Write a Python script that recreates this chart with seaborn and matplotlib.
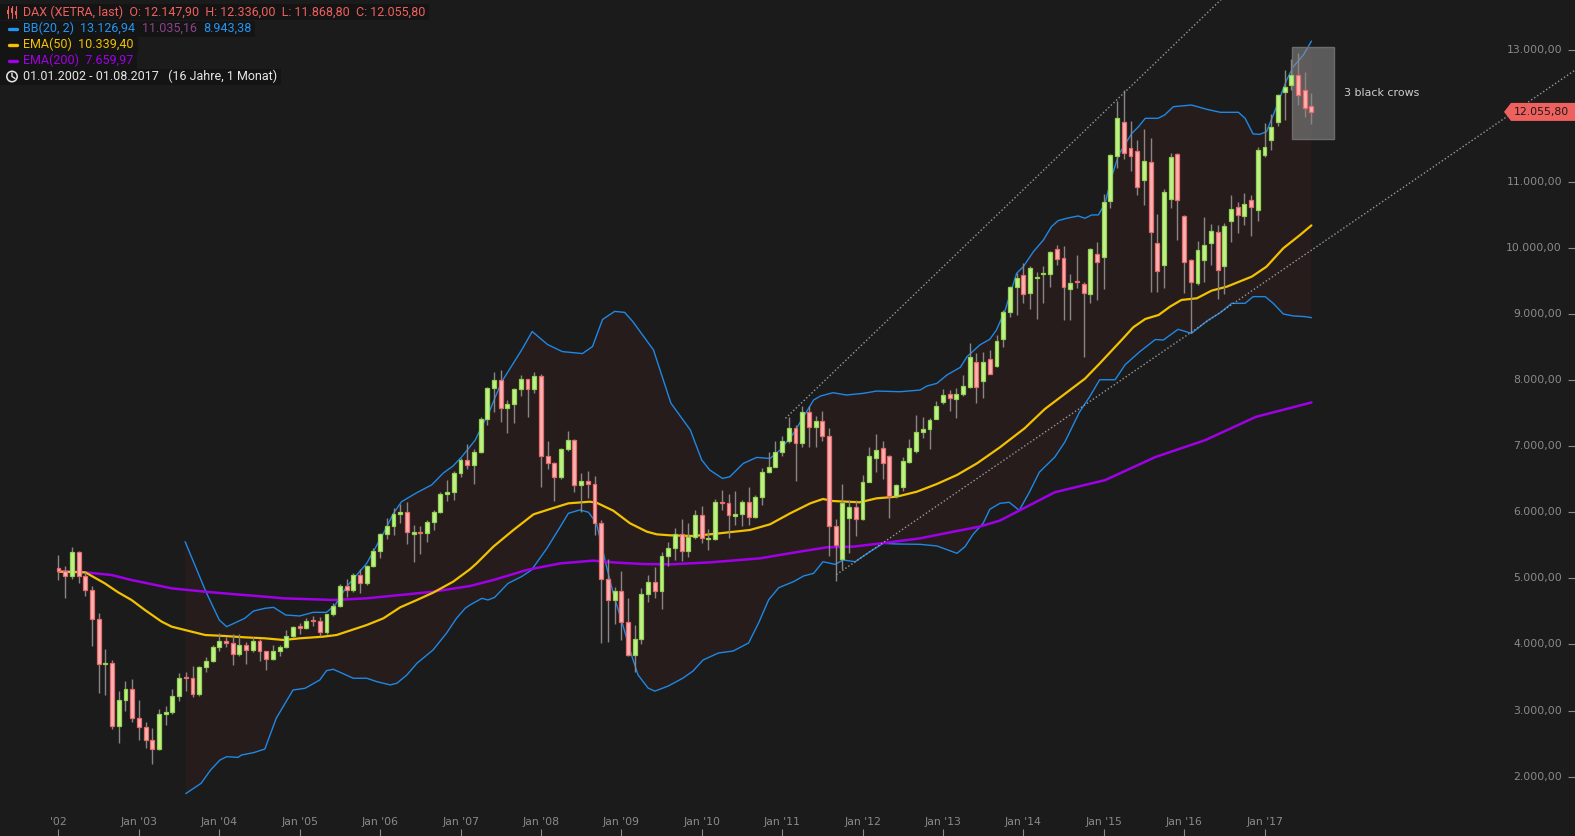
import numpy as np
import pandas as pd
import matplotlib
matplotlib.use("Agg")
import matplotlib.pyplot as plt
import matplotlib.transforms as mtransforms
from matplotlib.patches import Polygon, Rectangle, Circle
from matplotlib.lines import Line2D
import seaborn as sns

# ---------------- data (monthly DAX, Jan 2002 .. Aug 2017) ----------------
opens = [
    5160, 5108, 5039, 5397, 5041, 4818, 4383, 3700, 3712, 2769, 3153, 3321,
    2893, 2748, 2547, 2424, 2942, 2983, 3221, 3487, 3485, 3257, 3656, 3746,
    3965, 4058, 4018, 3856, 3985, 3921, 4053, 3895, 3785, 3893, 3960, 4126,
    4256, 4254, 4350, 4349, 4185, 4460, 4586, 4887, 4830, 5044, 4929, 5193,
    5408, 5674, 5796, 5970, 6009, 5675, 5690, 5682, 5859, 6004, 6269, 6309,
    6597, 6789, 6716, 6917, 7409, 7883, 8007, 7584, 7638, 7862, 8019, 7871,
    8067, 6851, 6748, 6535, 6949, 7097, 6418, 6479, 6422, 5831, 4988, 4669,
    4810, 4338, 3843, 4085, 4770, 4941, 4809, 5332, 5458, 5675, 5415, 5625,
    5957, 5590, 5598, 6154, 6136, 5950, 5966, 6148, 5925, 6229, 6601, 6688,
    6914, 7077, 7273, 7041, 7514, 7294, 7376, 7159, 5785, 5290, 5917, 6073,
    5898, 6462, 6825, 6966, 6850, 6250, 6386, 6764, 6931, 7218, 7254, 7415,
    7672, 7788, 7718, 7793, 7889, 8277, 7990, 8313, 8217, 8615, 9024, 9402,
    9588, 9311, 9540, 9600, 9598, 9977, 9840, 9372, 9490, 9447, 9296, 9906,
    9856, 10713, 11389, 11908, 11510, 11464, 11026, 11298, 10077, 9745, 10743, 11419,
    10481, 9815, 9473, 9815, 10077, 10234, 9730, 10410, 10612, 10486, 10723, 10572,
    11404, 11631, 11908, 12362, 12463, 12614, 12387, 12147.9]
highs = [
    5356, 5180, 5467, 5420, 5090, 4880, 4475, 3930, 3760, 3300, 3450, 3476,
    3160, 2830, 2740, 3030, 3072, 3325, 3570, 3580, 3676, 3680, 3815, 3990,
    4168, 4110, 4155, 4150, 4040, 4110, 4080, 3900, 3990, 3990, 4220, 4272,
    4320, 4400, 4430, 4410, 4465, 4630, 4913, 4990, 5075, 5136, 5200, 5460,
    5690, 5910, 6070, 6125, 6150, 5800, 5790, 5880, 6030, 6300, 6485, 6630,
    6820, 7032, 6960, 7440, 7900, 8117, 8150, 7700, 7880, 8070, 8020, 8117,
    8090, 7077, 6760, 6970, 7230, 7100, 6600, 6623, 6548, 5880, 5290, 4870,
    5115, 4700, 4300, 4850, 5050, 5176, 5400, 5550, 5760, 5890, 5830, 6030,
    6093, 5740, 6195, 6335, 6270, 6320, 6190, 6387, 6260, 6670, 6907, 7080,
    7160, 7440, 7320, 7600, 7600, 7450, 7530, 7278, 5900, 6427, 6185, 6185,
    6563, 6981, 7183, 7077, 6865, 6430, 6840, 7107, 7470, 7435, 7420, 7682,
    7859, 7849, 7874, 8076, 8555, 8403, 8428, 8450, 8681, 9060, 9420, 9614,
    9775, 9725, 9629, 9725, 9950, 10042, 10027, 9598, 9891, 9480, 10000, 10083,
    10814, 11420, 12226, 12387, 11918, 11631, 11792, 11666, 10511, 10884, 11430, 11439,
    10490, 9830, 10103, 10471, 10360, 10345, 10380, 10799, 10700, 10834, 10799, 11530,
    11893, 12024, 12322, 12690, 12851, 12942, 12665, 12336.0]
lows = [
    4980, 4706, 4990, 4933, 4737, 3980, 3260, 3240, 2720, 2513, 2990, 2830,
    2560, 2440, 2189, 2400, 2787, 2950, 3140, 3290, 3210, 3220, 3575, 3730,
    3900, 3955, 3692, 3830, 3700, 3890, 3750, 3618, 3760, 3830, 3950, 4100,
    4150, 4230, 4280, 4120, 4150, 4430, 4570, 4720, 4800, 4773, 4900, 5170,
    5300, 5600, 5650, 5840, 5514, 5243, 5370, 5555, 5730, 5990, 6170, 6190,
    6540, 6650, 6427, 6890, 7320, 7511, 7370, 7193, 7350, 7760, 7446, 7800,
    6384, 6650, 6167, 6500, 6920, 6310, 6000, 6212, 5660, 4014, 4040, 4303,
    4067, 3830, 3589, 4000, 4647, 4698, 4530, 5180, 5270, 5260, 5320, 5600,
    5540, 5433, 5580, 6033, 5610, 5800, 5790, 5810, 5910, 6110, 6600, 6730,
    6850, 7043, 6476, 6990, 6992, 6990, 7080, 5338, 4964, 5136, 5380, 5645,
    5882, 6462, 6613, 6502, 5917, 6210, 6326, 6739, 6900, 7127, 6951, 7405,
    7637, 7536, 7420, 7758, 7874, 7657, 7733, 8090, 8202, 8504, 8960, 8983,
    9170, 9079, 8918, 9170, 9412, 9740, 8908, 8908, 9387, 8353, 9160, 9210,
    9377, 10597, 11202, 11338, 11167, 10799, 10648, 9336, 9326, 9397, 10607, 10118,
    9311, 8706, 9440, 9488, 9740, 9220, 9300, 10093, 10219, 10345, 10178, 10405,
    11369, 11479, 11843, 11933, 12387, 12160, 11974, 11868.8]
closes = [
    5108, 5039, 5397, 5041, 4818, 4383, 3700, 3712, 2769, 3153, 3321, 2893,
    2748, 2547, 2424, 2942, 2983, 3221, 3487, 3485, 3257, 3656, 3746, 3965,
    4058, 4018, 3856, 3985, 3921, 4053, 3895, 3785, 3893, 3960, 4126, 4256,
    4254, 4350, 4349, 4185, 4460, 4586, 4887, 4830, 5044, 4929, 5193, 5408,
    5674, 5796, 5970, 6009, 5693, 5683, 5682, 5859, 6004, 6269, 6309, 6597,
    6789, 6716, 6917, 7409, 7883, 8007, 7584, 7638, 7862, 8019, 7871, 8067,
    6851, 6748, 6535, 6949, 7097, 6418, 6479, 6422, 5831, 4988, 4669, 4810,
    4338, 3843, 4085, 4770, 4941, 4809, 5332, 5458, 5675, 5415, 5625, 5957,
    5608, 5598, 6154, 6136, 5964, 5966, 6148, 5925, 6229, 6601, 6688, 6914,
    7077, 7273, 7041, 7514, 7294, 7376, 7159, 5785, 5502, 6134, 6073, 5898,
    6452, 6850, 6941, 6749, 6250, 6411, 6774, 6966, 7208, 7259, 7395, 7606,
    7773, 7733, 7788, 7909, 8343, 7889, 8267, 8096, 8590, 9024, 9402, 9538,
    9296, 9689, 9556, 9603, 9931, 9825, 9402, 9462, 9477, 9311, 9977, 9790,
    10688, 11399, 11958, 11439, 11394, 10925, 11313, 10244, 9654, 10844, 11379, 10723,
    9790, 9488, 9967, 10042, 10254, 9664, 10330, 10587, 10496, 10663, 10622, 11480,
    11530, 11822, 12312, 12433, 12614, 12312, 12110, 12055.8]

# indicator lines (month index, value)
bb_upper_m = [18.9, 22.0, 24.0, 25.1, 27.8, 29.1, 30.8, 32.1, 33.9, 36.0, 38.0, 40.0, 41.3, 43.0,
              46.0, 48.5, 50.0, 51.2, 53.5, 55.7, 57.4, 58.9, 60.2, 61.4, 62.2, 64.4, 66.1, 69.1,
              70.7, 73.0, 75.2, 78.2, 79.7, 81.2, 83.0, 84.5, 85.7, 88.8, 90.3, 91.4, 94.3, 96.0,
              97.2, 99.1, 100.2, 102.2, 104.2, 106.2, 107.7, 109.7, 112.7, 113.7, 115.6, 117.6,
              120.1, 122.1, 125.6, 128.6, 129.6, 131.1, 132.6, 134.6, 135.6, 137.5, 139.0, 140.0,
              141.3, 143.0, 144.0, 145.5, 147.0, 148.2, 149.2, 150.5, 152.2, 153.2, 154.2, 155.2,
              156.2, 157.2, 158.2, 160.2, 161.2, 162.2, 164.1, 165.1, 166.4, 169.1, 171.4, 173.4,
              176.1, 177.1, 178.3, 179.3, 180.3, 181.8, 183.3, 184.3, 185.8, 187.0]
bb_upper_v = [5554, 4797, 4369, 4268, 4395, 4505, 4546, 4561, 4445, 4430, 4485, 4485, 4596, 4873,
              5226, 5680, 5983, 6159, 6297, 6413, 6590, 6700, 6840, 6990, 7092, 7546, 7965, 8450,
              8734, 8536, 8430, 8400, 8506, 8916, 9038, 9023, 8886, 8455, 7990, 7650, 7244, 6790,
              6638, 6511, 6537, 6738, 6829, 6813, 6941, 7193, 7697, 7757, 7808, 7773,
              7798, 7833, 7823, 7848, 7909, 7949, 8076, 8192, 8353, 8530, 8616, 8758,
              9060, 9614, 9715, 9941, 10118, 10320, 10411, 10447, 10482, 10447, 10497, 10497,
              10673, 11076, 11404, 11732, 11833, 11959, 11959, 12010, 12135, 12160, 12095, 12050,
              12050, 11959, 11722, 11717, 11757, 12135, 12538, 12740, 12917, 13127]
bb_lower_m = [19.0, 21.3, 22.7, 24.1, 25.1, 26.8, 27.3, 29.1, 30.8, 32.5, 35.0, 36.8, 39.0, 40.0,
              41.0, 44.0, 46.0, 47.5, 49.5, 50.5, 52.0, 53.5, 55.9, 57.9, 59.4, 60.7, 61.4, 63.2,
              64.1, 65.1, 67.1, 69.1, 70.6, 72.9, 74.9, 76.1, 77.8, 79.1, 80.3, 81.1, 81.8, 82.8,
              84.3, 85.6, 86.5, 88.0, 89.0, 91.0, 93.2, 94.7, 96.2, 98.5, 100.7, 103.0, 104.5,
              106.0, 107.5, 109.7, 111.2, 112.7, 114.1, 115.9, 117.1, 118.9, 121.1, 123.1, 125.1,
              128.6, 131.1, 134.1, 135.3, 136.5, 138.0, 139.0, 140.5, 141.9, 143.4, 144.9, 146.4,
              148.7, 150.2, 152.4, 153.9, 155.4, 157.7, 159.2, 161.4, 163.7, 164.9, 167.1, 169.1,
              171.4, 173.4, 175.1, 177.1, 178.3, 180.1, 181.3, 182.8, 184.3, 186.0, 187.0]
bb_lower_v = [1743, 1900, 2100, 2251, 2301, 2291, 2326, 2362, 2417, 2883, 3310, 3336, 3462, 3603,
              3624, 3488, 3488, 3437, 3387, 3412, 3538, 3715, 3916, 4168, 4395, 4546, 4596, 4697,
              4672, 4712, 4924, 5025, 5126, 5454, 5782, 5983, 6034, 5999, 5832, 5479, 5176, 4773,
              4268, 3815, 3538, 3339, 3293, 3370, 3490, 3597, 3764, 3870, 3900, 4022, 4326,
              4676, 4858, 4949, 5035, 5075, 5251, 5211, 5277, 5251, 5403, 5529, 5519,
              5514, 5489, 5378, 5479, 5665, 5831, 6044, 6134, 6150, 6028, 6302, 6606,
              6834, 7062, 7518, 7746, 8004, 8004, 8232, 8430, 8612, 8605, 8767, 8706,
              8893, 9019, 9160, 9160, 9261, 9261, 9160, 8999, 8969, 8959, 8943]
ema50_m = [0, 4.0, 6.9, 8.9, 10.9, 12.9, 15.4, 16.9, 19.9, 21.9, 24.9, 27.8, 30.8, 33.6, 36.0, 39.5,
           41.5, 46.0, 48.5, 51.0, 53.5, 55.9, 58.9, 61.4, 62.4, 64.9, 67.9, 70.9, 73.4, 76.1, 79.3,
           80.3, 82.8, 85.3, 87.8, 89.3, 91.3, 94.7, 97.7, 103.2, 106.2, 109.2, 112.2, 114.1, 115.6,
           119.6, 122.1, 125.1, 128.1, 131.1, 134.1, 137.1, 140.5, 144.2, 147.2, 150.2, 153.2, 155.4,
           158.9, 160.4, 162.2, 164.2, 165.9, 167.6, 169.9, 172.1, 174.4, 178.1, 180.3, 182.8, 185.3, 187.0]
ema50_v = [5100, 5090, 4924, 4788, 4672, 4520, 4344, 4268, 4192, 4142, 4127, 4107, 4092, 4067, 4092, 4117,
           4142, 4293, 4395, 4561, 4672, 4782, 4949, 5136, 5226, 5479, 5731, 5968, 6049, 6134, 6159,
           6144, 6023, 5832, 5706, 5665, 5650, 5640, 5670, 5731, 5817, 5983, 6134, 6200, 6169,
           6150, 6210, 6235, 6310, 6427, 6563, 6740, 6981, 7270, 7560, 7790, 8020, 8250,
           8630, 8797, 8923, 8984, 9110, 9211, 9236, 9352, 9413, 9564, 9715, 9993, 10194, 10339]
ema200_m = [0, 3.0, 7.9, 10.9, 16.9, 21.9, 25.9, 30.8, 33.6, 41.0, 46.0, 51.0, 55.9, 61.4, 64.9, 69.9,
            74.9, 79.8, 83.3, 87.3, 91.3, 97.2, 104.7, 109.7, 114.7, 118.6, 123.6, 128.6, 133.6, 137.5,
            140.5, 148.7, 156.2, 163.7, 171.2, 178.7, 187.0]
ema200_v = [5110, 5100, 5050, 4974, 4848, 4797, 4762, 4722, 4697, 4672, 4697, 4747, 4797, 4883, 4974, 5126,
            5226, 5267, 5237, 5216, 5211, 5241, 5302, 5388, 5469, 5479, 5539, 5605, 5706, 5782,
            5873, 6302, 6485, 6834, 7092, 7442, 7660]
trend_upper_m = [108.5, 175.0]
trend_upper_v = [7420, 13900]
trend_lower_m = [116.1, 226.3]
trend_lower_v = [5056, 12685]
crows_box_m = [184.1, 190.3]
crows_box_v = [11641, 13033]

x_tick_months = [0, 12, 24, 36, 48, 60, 72, 84, 96, 108, 120, 132, 144, 156, 168, 180]
x_tick_labels = ["'02", "Jan '03", "Jan '04", "Jan '05", "Jan '06", "Jan '07", "Jan '08", "Jan '09",
                 "Jan '10", "Jan '11", "Jan '12", "Jan '13", "Jan '14", "Jan '15", "Jan '16", "Jan '17"]
y_ticks = [2000, 3000, 4000, 5000, 6000, 7000, 8000, 9000, 10000, 11000, 12000, 13000]
y_labels_shown = [2000, 3000, 4000, 5000, 6000, 7000, 8000, 9000, 10000, 11000, 13000]  # 12.000 hidden by price tag
last_close = closes[-1]

# ---------------- style ----------------
W, H = 1575, 836
BG = "#1c1b1b"
BAND = "#261c1c"
BLUE = "#1e88e5"
GOLD = "#f2c200"
PURPLE = "#a000e6"
RED_TXT = "#f0605d"
AXIS_TXT = "#8a8a8a"

sns.set_theme(style="dark", rc={"axes.facecolor": BG, "figure.facecolor": BG})
plt.rcParams["font.family"] = ["DejaVu Sans"]

fig = plt.figure(figsize=(W / 100, H / 100), dpi=100)
fig.patch.set_facecolor(BG)
ax = fig.add_axes([0, 0, 1, 1])
ax.set_facecolor(BG)
for s in ax.spines.values():
    s.set_visible(False)
ax.grid(False)
ax.set_xlim(-8.731, 226.34)
ax.set_ylim(1101.4, 13748.9)

# Bollinger band area
ax.fill(list(bb_upper_m) + list(bb_lower_m)[::-1],
        list(bb_upper_v) + list(bb_lower_v)[::-1],
        color=BAND, lw=0, zorder=1)

# lines via seaborn
sns.lineplot(x=bb_upper_m, y=bb_upper_v, ax=ax, color=BLUE, linewidth=1.0, zorder=2, estimator=None, sort=False)
sns.lineplot(x=bb_lower_m, y=bb_lower_v, ax=ax, color=BLUE, linewidth=1.0, zorder=2, estimator=None, sort=False)
sns.lineplot(x=ema200_m, y=ema200_v, ax=ax, color=PURPLE, linewidth=1.8, zorder=3, estimator=None, sort=False)
sns.lineplot(x=ema50_m, y=ema50_v, ax=ax, color=GOLD, linewidth=1.6, zorder=3, estimator=None, sort=False)

# 3 black crows box
ax.add_patch(Rectangle((crows_box_m[0], crows_box_v[0]), crows_box_m[1] - crows_box_m[0],
                       crows_box_v[1] - crows_box_v[0], facecolor=(0.56, 0.56, 0.56, 0.55),
                       edgecolor="#6c6c6c", lw=1, zorder=3.5))
ax.text(191.9, 12346, "3 black crows", color="#cfcfcf", fontsize=7.9, va="center", ha="left", zorder=7)

# candles
df = pd.DataFrame({"o": opens, "h": highs, "l": lows, "c": closes})
df["m"] = np.arange(len(df))
up = df["c"] >= df["o"]
ax.vlines(df["m"], df["l"], df["h"], color="#8a8484", lw=1.0, zorder=4)
bottom = np.minimum(df["o"], df["c"])
height = np.maximum(np.abs(df["c"] - df["o"]), 20)
ax.bar(df["m"][up], height[up], bottom=bottom[up], width=0.58, color="#c4ef8e",
       edgecolor="#8fd84e", linewidth=0.9, zorder=5)
ax.bar(df["m"][~up], height[~up], bottom=bottom[~up], width=0.58, color="#f8b3b3",
       edgecolor="#ee6a6a", linewidth=0.9, zorder=5)

# trend lines
ax.plot(trend_upper_m, trend_upper_v, ls=(0, (1, 1.6)), color="#9a9a9a", lw=1.0, zorder=6)
ax.plot(trend_lower_m, trend_lower_v, ls=(0, (1, 1.6)), color="#9a9a9a", lw=1.0, zorder=6)

# ticks
ax.set_xticks(x_tick_months)
ax.set_yticks(y_ticks)
ax.tick_params(axis="x", bottom=True, top=False, direction="in", length=5, width=0.8,
               color=AXIS_TXT, labelbottom=False, labeltop=False)
ax.tick_params(axis="y", left=False, right=True, direction="in", length=5, width=0.8,
               color=AXIS_TXT, labelleft=False, labelright=False)


def de_fmt(v):
    s = f"{v:,.2f}"
    return s.replace(",", "X").replace(".", ",").replace("X", ".")


ytr = mtransforms.blended_transform_factory(ax.transAxes, ax.transData)
for v in y_labels_shown:
    ax.text(1562 / W, v, de_fmt(v), transform=ytr, ha="right", va="center",
            color=AXIS_TXT, fontsize=7.8, zorder=8)
xtr = mtransforms.blended_transform_factory(ax.transData, ax.transAxes)
for m, lab in zip(x_tick_months, x_tick_labels):
    ax.text(m, (H - 822) / H, lab, transform=xtr, ha="center", va="center",
            color=AXIS_TXT, fontsize=7.8, zorder=8)

# price tag
ident = mtransforms.IdentityTransform()
yc = ax.transData.transform((0, last_close))[1]
tag = Polygon([[1504, yc], [1511, yc + 9], [W, yc + 9], [W, yc - 9], [1511, yc - 9]],
              closed=True, facecolor="#ef615e", edgecolor="none", transform=ident, zorder=20)
fig.add_artist(tag)
fig.text(1541, yc, de_fmt(last_close), transform=ident, ha="center", va="center",
         color="#1a1a1a", fontsize=7.8, zorder=21)

# ---------------- header ----------------
px = mtransforms.Affine2D().scale(1 / W, -1 / H).translate(0, 1) + fig.transFigure
fig.canvas.draw()
renderer = fig.canvas.get_renderer()
HF = ["Roboto", "DejaVu Sans"]


def seq_text(x, y, parts, size=9.0):
    for s, col in parts:
        t = fig.text(x, y, s, transform=px, color=col, fontsize=size, family=HF,
                     va="center", ha="left", zorder=31)
        x += t.get_window_extent(renderer).width
    return x


rows = [
    (12, [("DAX (XETRA, last)  O: 12.147,90  H: 12.336,00  L: 11.868,80  C: 12.055,80", RED_TXT)], "candle", RED_TXT),
    (28.5, [("BB(20, 2)  ", "#2196f3"), ("13.126,94  ", "#2196f3"), ("11.035,16  ", "#8c428c"),
            ("8.943,38", "#2196f3")], "bar", "#2196f3"),
    (44.5, [("EMA(50)  10.339,40", GOLD)], "bar", GOLD),
    (60.5, [("EMA(200)  7.659,97", PURPLE)], "bar", PURPLE),
    (76.5, [("01.01.2002 - 01.08.2017   (16 Jahre, 1 Monat)", "#e6e6e6")], "clock", "#e6e6e6"),
]
for y, parts, icon, col in rows:
    xe = seq_text(23, y, parts)
    fig.add_artist(Rectangle((0, y - 8), xe + 4, 16, transform=px, facecolor="#151414",
                             edgecolor="none", zorder=30))
    if icon == "bar":
        fig.add_artist(Line2D([9, 17], [y, y], transform=px, color=col, lw=2.4, zorder=32))
    elif icon == "candle":
        for cx, b0, b1 in [(8, y - 2, y + 2), (12, y - 4, y + 1), (16, y - 1, y + 3)]:
            fig.add_artist(Line2D([cx, cx], [y - 6, y + 6], transform=px, color=col, lw=0.8, zorder=32))
            fig.add_artist(Rectangle((cx - 1.2, b0), 2.4, b1 - b0, transform=px, facecolor=col,
                                     edgecolor="none", zorder=33))
    elif icon == "clock":
        fig.add_artist(Circle((12, y), 5.2, transform=px, facecolor="none", edgecolor=col,
                              lw=1.1, zorder=32))
        fig.add_artist(Line2D([12, 12, 15], [y - 3.5, y, y + 2], transform=px, color=col, lw=1.0, zorder=32))

fig.savefig("out.png", dpi=100, facecolor=BG)
